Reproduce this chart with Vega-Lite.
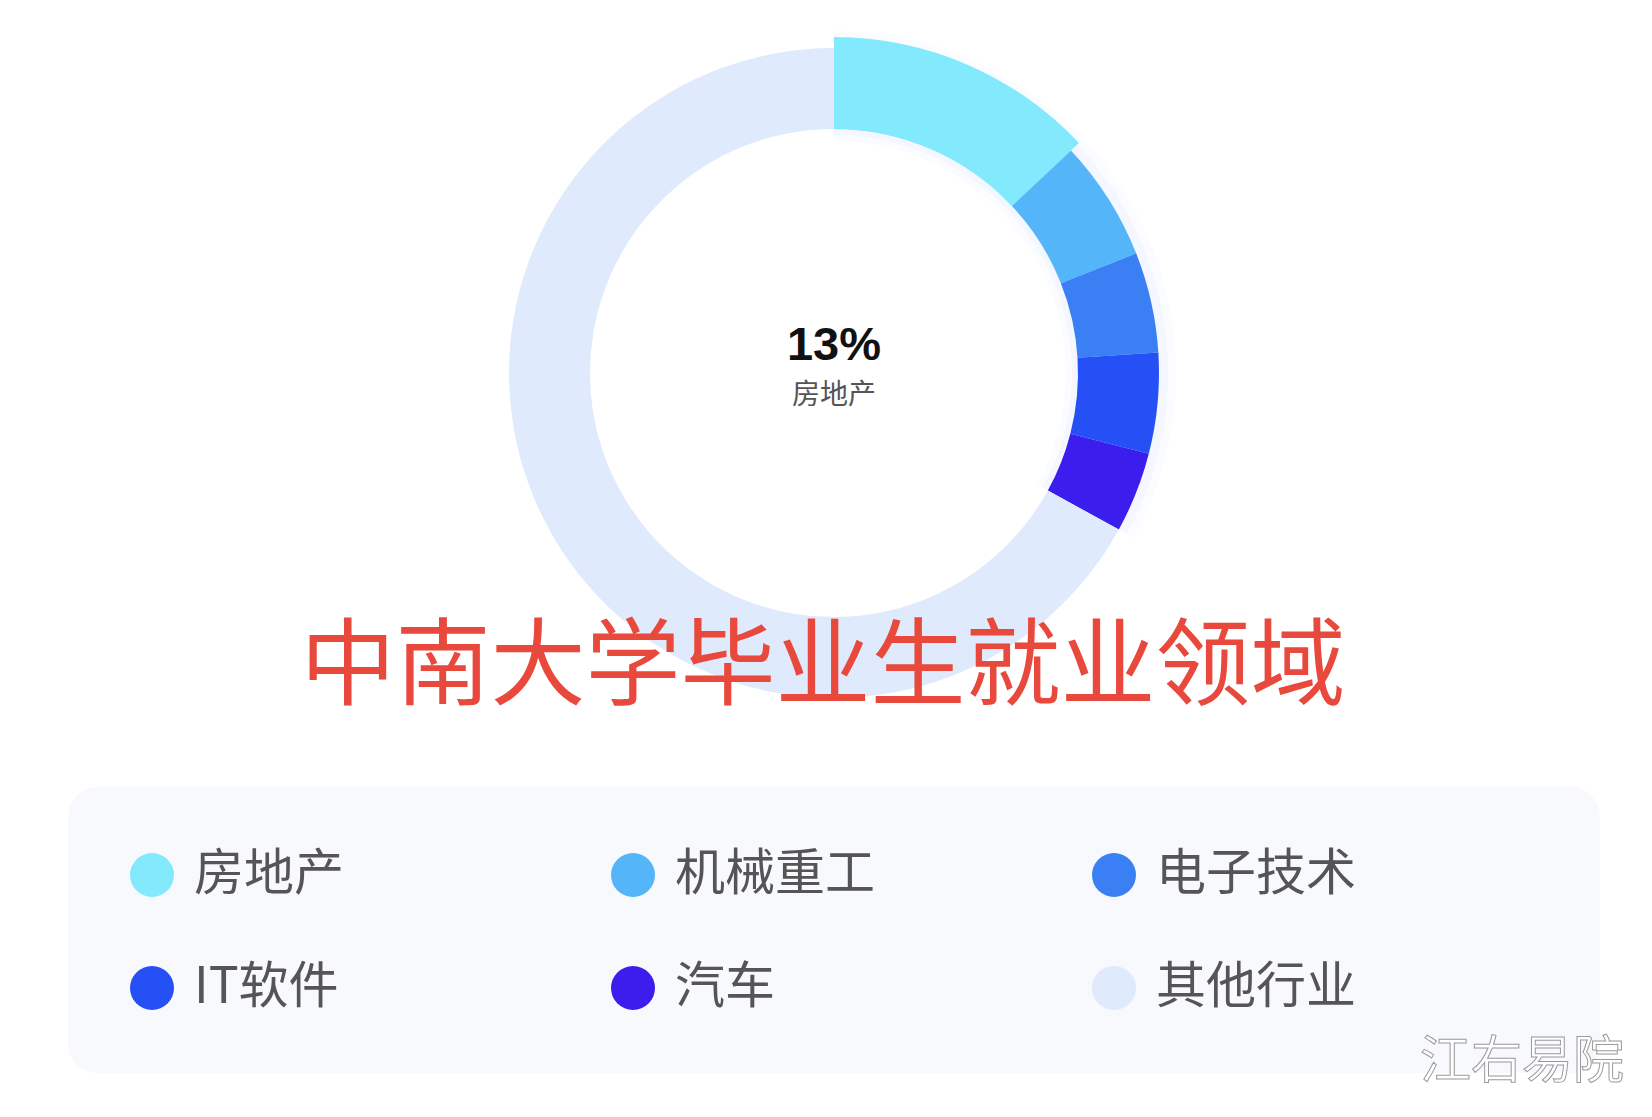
{
  "$schema": "https://vega.github.io/schema/vega-lite/v6.json",
  "background": "white",
  "padding": {"left": 16, "top": 0, "right": 0, "bottom": 30},
  "spacing": 41,
  "center": true,
  "bounds": "flush",
  "config": {"view": {"stroke": null}, "font": "Noto Sans CJK SC"},
  "resolve": {"scale": {"color": "shared"}, "legend": {"color": "shared"}},
  "vconcat": [
    {
      "width": 1636,
      "height": 746,
      "data": {
        "values": [
          {"category": "房地产", "value": 0.13, "idx": 1},
          {"category": "机械重工", "value": 0.06, "idx": 2},
          {"category": "电子技术", "value": 0.05, "idx": 3},
          {"category": "IT软件", "value": 0.05, "idx": 4},
          {"category": "汽车", "value": 0.04, "idx": 5},
          {"category": "其他行业", "value": 0.67, "idx": 6}
        ]
      },
      "title": {
        "text": "中南大学毕业生就业领域",
        "orient": "bottom",
        "anchor": "middle",
        "offset": -48,
        "baseline": "alphabetic",
        "fontSize": 95,
        "font": "Noto Sans CJK SC",
        "fontWeight": "normal",
        "color": "#E8493C",
        "dx": -11,
        "zindex": 1
      },
      "layer": [
        {
          "transform": [{"filter": "datum.category !== '其他行业'"}],
          "mark": {"type": "arc", "outerRadius": 342, "innerRadius": 232, "fill": "#8FB2FF", "opacity": 0.04},
          "encoding": {
            "theta": {"field": "value", "type": "quantitative", "stack": true, "scale": {"domain": [0, 1]}},
            "order": {"field": "idx", "type": "quantitative"}
          }
        },
        {
          "transform": [{"filter": "datum.category !== '其他行业'"}],
          "mark": {"type": "arc", "outerRadius": 334, "innerRadius": 238, "fill": "#8FB2FF", "opacity": 0.06},
          "encoding": {
            "theta": {"field": "value", "type": "quantitative", "stack": true, "scale": {"domain": [0, 1]}},
            "order": {"field": "idx", "type": "quantitative"}
          }
        },
        {
          "mark": {"type": "arc", "outerRadius": 325, "innerRadius": 244},
          "encoding": {
            "theta": {"field": "value", "type": "quantitative", "stack": true, "scale": {"domain": [0, 1]}},
            "order": {"field": "idx", "type": "quantitative"},
            "color": {
              "field": "category",
              "type": "nominal",
              "scale": {
                "domain": ["房地产", "机械重工", "电子技术", "IT软件", "汽车", "其他行业"],
                "range": ["#83E9FC", "#55B5F9", "#3A80F4", "#2550F5", "#3B1EEE", "#DFEAFC"]
              },
              "legend": {
                "orient": "none",
                "legendX": 111,
                "legendY": 850,
                "columns": 3,
                "direction": "horizontal",
                "title": null,
                "symbolType": "circle",
                "symbolSize": 1936,
                "symbolStrokeWidth": 0,
                "symbolOpacity": 1,
                "labelFontSize": 50,
                "labelFont": "Noto Sans CJK SC",
                "labelColor": "#555555",
                "labelOffset": 17,
                "labelLimit": 600,
                "columnPadding": 214,
                "rowPadding": 63,
                "gridAlign": "all",
                "padding": 0
              }
            }
          }
        },
        {
          "transform": [{"filter": "datum.category === '房地产'"}],
          "mark": {"type": "arc", "outerRadius": 336, "innerRadius": 244},
          "encoding": {
            "theta": {"field": "value", "type": "quantitative", "stack": true, "scale": {"domain": [0, 1]}},
            "order": {"field": "idx", "type": "quantitative"},
            "color": {"field": "category", "type": "nominal"}
          }
        },
        {
          "transform": [{"filter": "datum.category === '房地产'"}],
          "mark": {"type": "text", "font": "Liberation Sans", "fontWeight": "bold", "fontSize": 47, "fill": "#111111", "baseline": "alphabetic", "align": "center", "dy": -13},
          "encoding": {"text": {"field": "value", "type": "quantitative", "format": ".0%"}}
        },
        {
          "transform": [{"filter": "datum.category === '房地产'"}],
          "mark": {"type": "text", "font": "Noto Sans CJK SC", "fontSize": 28, "fill": "#555555", "baseline": "alphabetic", "align": "center", "dy": 31},
          "encoding": {"text": {"field": "category", "type": "nominal"}}
        }
      ]
    },
    {
      "width": 1532,
      "height": 286,
      "view": {"fill": "#F8F9FC", "cornerRadius": 30, "stroke": null},
      "data": {"values": [{"label": "江右易院"}]},
      "mark": {"type": "text", "align": "right", "baseline": "middle", "dx": 790, "dy": 133, "fontSize": 51, "font": "Noto Sans CJK SC", "fill": "#ffffff", "stroke": "#9a9a9a", "strokeWidth": 1},
      "encoding": {"text": {"field": "label", "type": "nominal"}}
    }
  ]
}
